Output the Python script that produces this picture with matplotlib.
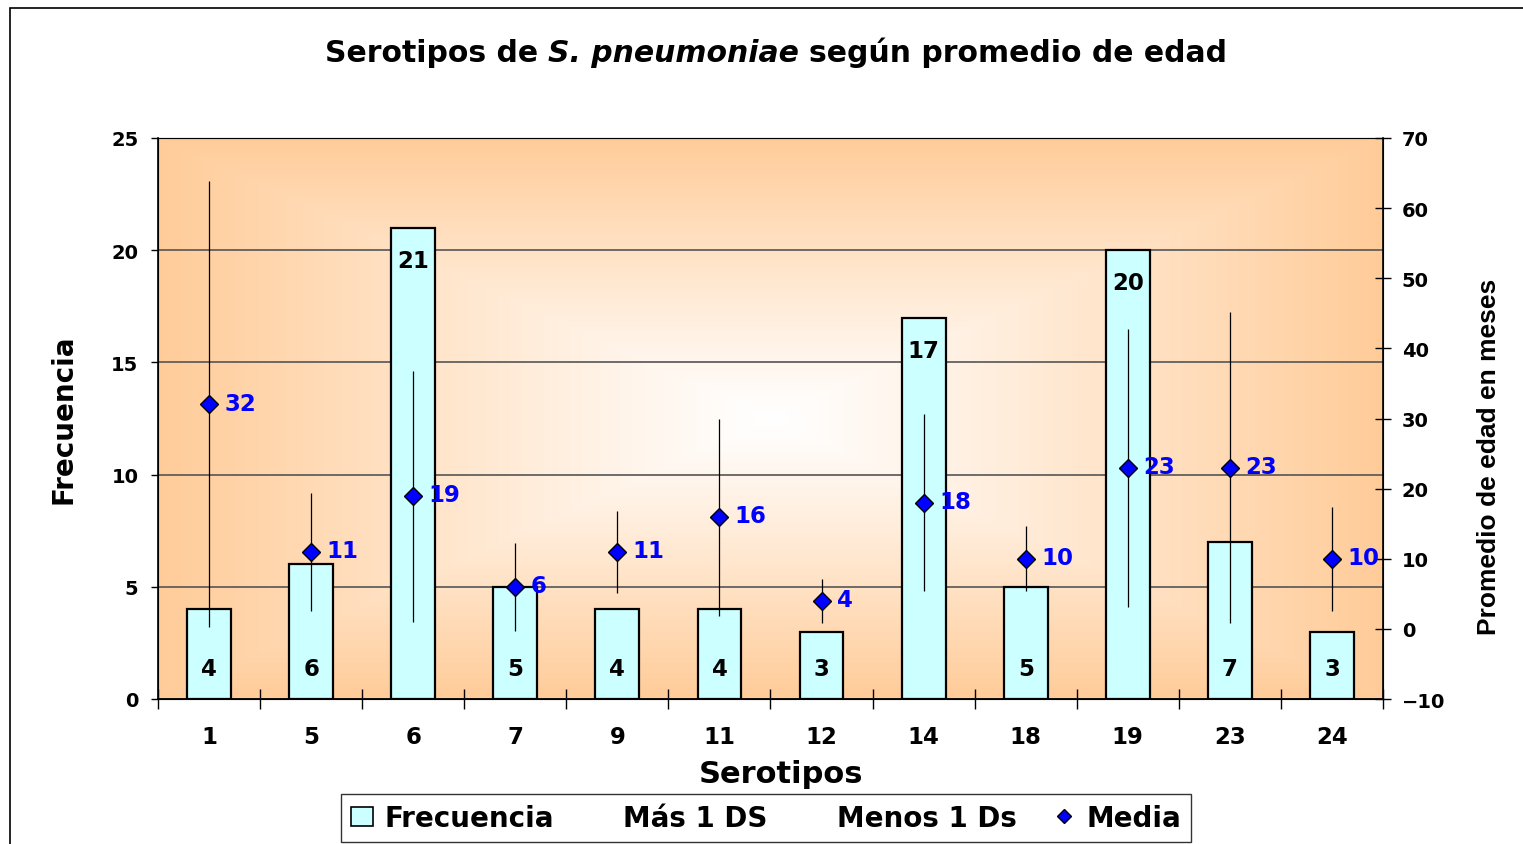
import numpy as np
import matplotlib
matplotlib.use('Agg')
import matplotlib.pyplot as plt
from matplotlib.lines import Line2D
from matplotlib.patches import Patch, Rectangle

plt.rcParams['font.family'] = ['DejaVu Sans']
plt.rcParams['font.weight'] = 'bold'

# datos del grafico
serotipos = ['1', '5', '6', '7', '9', '11', '12', '14', '18', '19', '23', '24']
frecuencia = [4, 6, 21, 5, 4, 4, 3, 17, 5, 20, 7, 3]
media = [32, 11, 19, 6, 11, 16, 4, 18, 10, 23, 23, 10]
mas_1ds = [63.8, 19.4, 36.8, 12.3, 16.8, 30.0, 7.1, 30.6, 14.6, 42.8, 45.2, 17.4]
menos_1ds = [0.2, 2.5, 1.0, -0.3, 5.1, 1.9, 0.8, 5.4, 5.4, 3.1, 0.8, 2.5]

W, H = 1523, 845
fig = plt.figure(figsize=(W / 100, H / 100), dpi=100)
fig.patch.set_facecolor('white')

# marco exterior del grafico
fig.patches.append(Rectangle((10 / W, -0.05), 1.2, 1 - 9 / H + 0.05,
                             transform=fig.transFigure, fill=False,
                             edgecolor='black', linewidth=1.2))

x0, x1, y0, y1 = 158, 1383, 139, 700
ax = fig.add_axes([x0 / W, 1 - y1 / H, (x1 - x0) / W, (y1 - y0) / H])

# fondo degradado desde el centro
n = 400
u = np.linspace(-1, 1, n)
uu, vv = np.meshgrid(u, u)
t = np.maximum(np.abs(uu), np.abs(vv)) ** 1.1
naranja = np.array([1.0, 0.80, 0.60])
blanco = np.array([1.0, 1.0, 1.0])
img = blanco[None, None, :] * (1 - t[..., None]) + naranja[None, None, :] * t[..., None]
ax.imshow(img, extent=[0, 1, 0, 1], transform=ax.transAxes, aspect='auto',
          zorder=0, interpolation='bilinear')

xs = np.arange(len(serotipos))
barras = ax.bar(xs, frecuencia, width=0.43, color='#CCFFFF', edgecolor='black',
                linewidth=1.6, zorder=2)
ax.set_xlim(-0.5, len(serotipos) - 0.5)
ax.set_ylim(0, 25)
ax.set_yticks([0, 5, 10, 15, 20, 25])
ax.yaxis.grid(True, color='#555555', linewidth=1.2, zorder=1)
ax.set_axisbelow(True)
ax.set_xticks(xs)
ax.set_xticklabels(serotipos, fontsize=16.5, fontweight='bold')
ax.tick_params(axis='x', which='major', length=0, pad=19)
ax.set_xticks(np.arange(-0.5, len(serotipos)), minor=True)
ax.tick_params(axis='x', which='minor', direction='inout', length=14, width=1)
ax.tick_params(axis='y', direction='out', length=5, width=1, pad=9, labelsize=14)
for lab in ax.get_yticklabels():
    lab.set_fontweight('bold')
ax.spines['top'].set_color('#888888')
ax.spines['left'].set_linewidth(1.2)
ax.spines['bottom'].set_linewidth(1.2)

for b, v in zip(barras, frecuencia):
    yy = v - 1.45 if v > 10 else 1.35
    ax.text(b.get_x() + b.get_width() / 2, yy, str(v), ha='center', va='center',
            fontsize=16.5, fontweight='bold', color='black', zorder=3)

ax2 = ax.twinx()
ax2.set_ylim(-10, 70)
ax2.set_yticks(np.arange(-10, 71, 10))
ax2.tick_params(axis='y', direction='inout', length=11, width=1, pad=8, labelsize=14)
for lab in ax2.get_yticklabels():
    lab.set_fontweight('bold')
ax2.spines['right'].set_linewidth(1.2)
ax2.vlines(xs, menos_1ds, mas_1ds, color='black', linewidth=0.9, zorder=3)
ax2.plot(xs, media, linestyle='none', marker='D', markersize=9,
         markerfacecolor='#0000FF', markeredgecolor='black', markeredgewidth=1, zorder=4)
for xi, m in zip(xs, media):
    ax2.annotate(str(m), (xi, m), xytext=(11, 1), textcoords='offset points',
                 ha='left', va='center', fontsize=16.5, fontweight='bold', color='#0000FF')

ax.set_ylabel('Frecuencia', fontsize=20, fontweight='bold')
ax.yaxis.set_label_coords(-0.0655, 0.5)
ax2.set_ylabel('Promedio de edad en meses', fontsize=19, fontweight='bold',
               fontfamily='Liberation Sans')
ax2.yaxis.set_label_coords(1.077, 0.433)
fig.text(781 / W, 1 - 775 / H, 'Serotipos', ha='center', va='center',
         fontsize=22, fontweight='bold')

# titulo con parte en cursiva
partes = [('Serotipos de', 'normal'), ('S. pneumoniae', 'italic'),
          ('según promedio de edad', 'normal')]
fs_tit = 21.5
r = fig.canvas.get_renderer()
tmp = fig.text(0, 0, 'a a', fontsize=fs_tit, fontweight='bold')
w_aa = tmp.get_window_extent(r).width
tmp.set_text('aa')
esp = w_aa - tmp.get_window_extent(r).width
tmp.remove()
textos = []
anchos = []
for txt, st in partes:
    tt = fig.text(0, 1 - 53 / H, txt, fontsize=fs_tit, fontweight='bold', style=st,
                  ha='left', va='center')
    textos.append(tt)
    anchos.append(tt.get_window_extent(r).width)
total = sum(anchos) + esp * (len(partes) - 1)
xpos = 776 - total / 2
for tt, a in zip(textos, anchos):
    tt.set_x(xpos / W)
    xpos += a + esp

handles = [Patch(facecolor='#CCFFFF', edgecolor='black', linewidth=1.2),
           Line2D([], [], linestyle='none'),
           Line2D([], [], linestyle='none'),
           Line2D([], [], linestyle='none', marker='D', markersize=7,
                  markerfacecolor='#0000FF', markeredgecolor='black')]
labels = ['Frecuencia', 'Más 1 DS', 'Menos 1 Ds', 'Media']
leg = fig.legend(handles, labels, loc='center', bbox_to_anchor=(766 / W, 1 - 819 / H),
                 ncol=4, frameon=True, fancybox=False, edgecolor='black',
                 prop={'weight': 'bold', 'size': 20, 'family': 'DejaVu Sans'},
                 handlelength=0.8, handletextpad=0.4, columnspacing=1.3, borderpad=0.35)
leg.get_frame().set_linewidth(1)

fig.savefig('out.png', dpi=100)
